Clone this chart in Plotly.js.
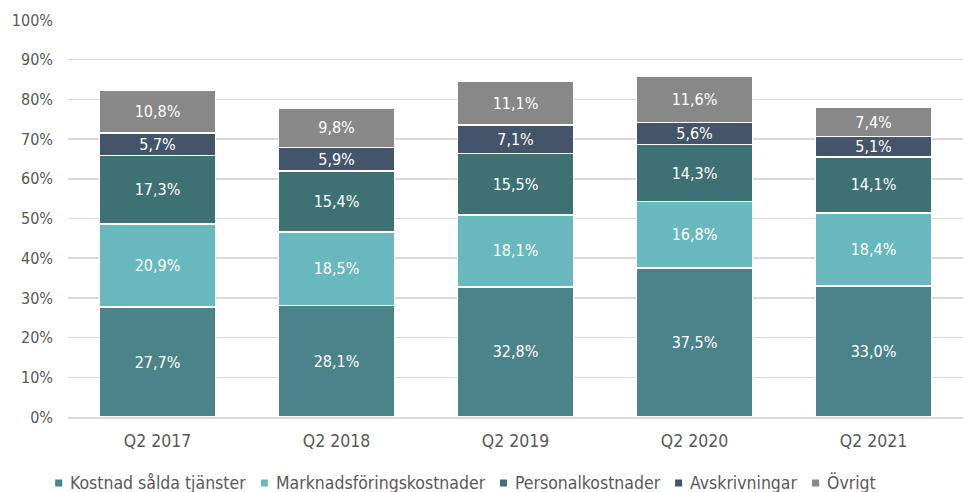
<!DOCTYPE html>
<html><head><meta charset="utf-8">
<script src="https://cdn.plot.ly/plotly-3.0.1.min.js"></script>
<style>body{margin:0;background:#fff}#c{width:963px;height:492px}</style>
</head><body><div id="c"></div>
<script>
const categories = ["Q2 2017","Q2 2018","Q2 2019","Q2 2020","Q2 2021"];
const kostnad = [27.7, 28.1, 32.8, 37.5, 33.0];
const marknad = [20.9, 18.5, 18.1, 16.8, 18.4];
const personal = [17.3, 15.4, 15.5, 14.3, 14.1];
const avskriv = [5.7, 5.9, 7.1, 5.6, 5.1];
const ovrigt = [10.8, 9.8, 11.1, 11.6, 7.4];
const seriesNames = ["Kostnad sålda tjänster","Marknadsföringskostnader","Personalkostnader","Avskrivningar","Övrigt"];
const seriesColors = ["#4b838b","#68b8bd","#3e7173","#44546a","#888888"];
const seriesData = [kostnad, marknad, personal, avskriv, ovrigt];

const FONT = 'DejaVu Sans Condensed, DejaVu Sans';
const W = 963, H = 492;

const traces = seriesData.map((d,i)=>({
  type:'bar', x:categories, y:d, name:seriesNames[i],
  marker:{color:seriesColors[i], line:{color:'#ffffff', width:1.5}},
  texttemplate:'%{y:.1f}%', textposition:'inside', insidetextanchor:'middle',
  constraintext:'none',
  textfont:{color:'#ffffff', size:16, family:FONT},
  hoverinfo:'none', showlegend:false
}));

// custom legend: small square + text, measured to lay out horizontally
const legendSize = 17.5;
const ctx = document.createElement('canvas').getContext('2d');
ctx.font = legendSize + 'px "DejaVu Sans Condensed", "DejaVu Sans"';
const sq = 7, sqGap = 7, itemGap = 16;
const widths = seriesNames.map(n => ctx.measureText(n).width);
const total = widths.reduce((a,b)=>a+b,0) + seriesNames.length*(sq+sqGap) + (seriesNames.length-1)*itemGap;
let x = 465 - total/2;
const ly = 483;
const shapes = [], annotations = [];
seriesNames.forEach((n,i)=>{
  shapes.push({type:'rect', xref:'paper', yref:'paper',
    x0:(x-68)/(W-68), x1:(x+sq-68)/(W-68), y0:(H-75-(ly+3.5))/(H-95), y1:(H-75-(ly-3.5))/(H-95),
    fillcolor:seriesColors[i], line:{width:0}});
  x += sq + sqGap;
  annotations.push({xref:'paper', yref:'paper', x:(x-68)/(W-68), y:(H-75-ly)/(H-95),
    xanchor:'left', yanchor:'middle', text:n, showarrow:false, xshift:-1,
    font:{size:legendSize, color:'#595959', family:FONT}});
  x += widths[i] + itemGap;
});

Plotly.newPlot('c', traces, {
  barmode:'stack', bargap:0.35, separators:',.',
  width:W, height:H,
  margin:{l:68, r:0, t:20, b:75},
  paper_bgcolor:'#fff', plot_bgcolor:'#fff',
  font:{family:FONT, color:'#595959', size:16},
  xaxis:{showgrid:false, tickfont:{size:17.5, color:'#595959'}, showline:true, linecolor:'#d9d9d9', linewidth:1.5, ticks:'', ticklabelstandoff:7},
  yaxis:{range:[0,100], dtick:10, ticksuffix:'%', gridcolor:'#d9d9d9', gridwidth:1.5, zeroline:false,
         tickfont:{size:16, color:'#595959'}, ticklabelstandoff:14},
  showlegend:false, shapes:shapes, annotations:annotations
}, {staticPlot:true});
</script></body></html>
